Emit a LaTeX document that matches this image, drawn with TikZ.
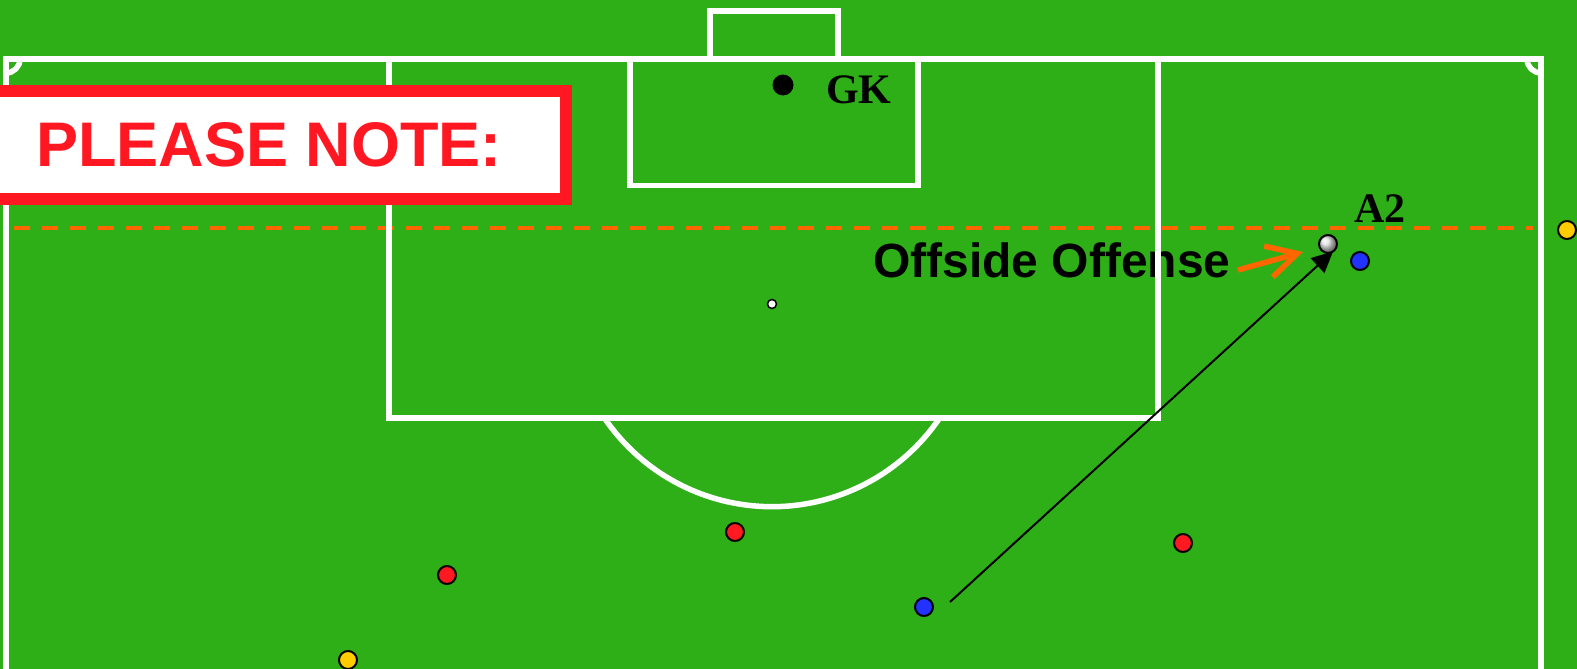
\documentclass[tikz,border=0pt]{standalone}
\usepackage{fontspec}
\setmainfont{Liberation Serif}
\newfontfamily\labelfont{Liberation Sans}
\usetikzlibrary{arrows.meta}

\definecolor{pitch}{RGB}{46,175,24}
\definecolor{notered}{RGB}{255,23,33}
\definecolor{redteam}{RGB}{255,26,34}
\definecolor{blueteam}{RGB}{34,51,255}
\definecolor{yellowteam}{RGB}{255,204,0}
\definecolor{offsideline}{RGB}{255,102,0}

\begin{document}
\begin{tikzpicture}[x=1pt, y=-1pt,
    pitchline/.style={draw=white, line width=5.5pt},
    player/.style={circle, draw=black, line width=2pt, minimum size=18pt, inner sep=0pt},
    redplayer/.style={player, fill=redteam},
    blueplayer/.style={player, fill=blueteam},
    yellowplayer/.style={player, fill=yellowteam},
    keeper/.style={circle, fill=black, minimum size=21pt, inner sep=0pt},
    ballnode/.style={player, shading=ball, ball color=white!75!gray},
    spot/.style={circle, draw=black, fill=white, line width=1.5pt, minimum size=9pt, inner sep=0pt},
    tag/.style={anchor=base west, inner sep=0pt, font=\bfseries\fontsize{42pt}{46pt}\selectfont},
    notebox/.style={draw=notered, line width=12pt, fill=white, text=notered, inner sep=0pt,
        minimum width=594pt, minimum height=107.5pt,
        font=\labelfont\bfseries\fontsize{63pt}{70pt}\selectfont},
    offsidetext/.style={anchor=base west, inner sep=0pt,
        font=\labelfont\bfseries\fontsize{48pt}{52pt}\selectfont},
    offsidearrow/.style={draw=offsideline, line width=5.5pt, -{Straight Barb[length=30pt,width=32pt]}},
    pass/.style={draw=black, line width=2pt, -{Triangle[length=21pt,width=20pt]}}]

    \useasboundingbox (0,0) rectangle (1577,669);
    \fill[pitch] (0,0) rectangle (1577,669);

    % offside line
    \draw[offsideline, line width=4pt, dash pattern=on 16pt off 12pt] (14,228) -- (1533,228);

    % label
    \node[offsidetext] (offside_label) at (873,277) {Offside Offense};

    % pitch
    \path[pitchline] (6,690) -- (6,59) -- (1541,59) -- (1541,690);
    \path[pitchline] (710,59) -- (710,11) -- (838,11) -- (838,59);
    \path[pitchline] (630,59) rectangle (918,185.5);
    \path[pitchline] (389,59) rectangle (1158,418);
    \path[pitchline] (772,304) ++(34.2:202.7) arc[start angle=34.2, end angle=145.8, radius=202.7];
    \path[pitchline] (20,59) arc[start angle=0, end angle=90, radius=14];
    \path[pitchline] (1541,73) arc[start angle=90, end angle=180, radius=14];
    \node[spot] (penalty_spot) at (772,304) {};

    % note
    \node[notebox] (note) at (269,144.75) {PLEASE NOTE:};

    % goalkeeper
    \node[keeper] (gk) at (783,85) {};
    \node[tag] (gk_label) at (826,103) {GK};

    % players
    \node[redplayer] (red_1) at (735,532) {};
    \node[redplayer] (red_2) at (447,575) {};
    \node[redplayer] (red_3) at (1183,543) {};
    \node[blueplayer] (blue_1) at (924,607) {};
    \node[blueplayer] (blue_2) at (1360,261) {};
    \node[yellowplayer] (yellow_1) at (348,660) {};
    \node[yellowplayer] (yellow_2) at (1567,230) {};

    % attacker with ball
    \node[ballnode] (a2) at (1328,244) {};
    \node[tag] (a2_label) at (1354,222) {A2};

    % arrows
    \coordinate (pass_from) at (950,602);
    \coordinate (pass_to) at (1333,251.5);
    \path[pass] (pass_from) -- (pass_to);
    \coordinate (offside_from) at (1238,270);
    \coordinate (offside_to) at (1303,252);
    \path[offsidearrow] (offside_from) -- (offside_to);

\end{tikzpicture}
\end{document}
